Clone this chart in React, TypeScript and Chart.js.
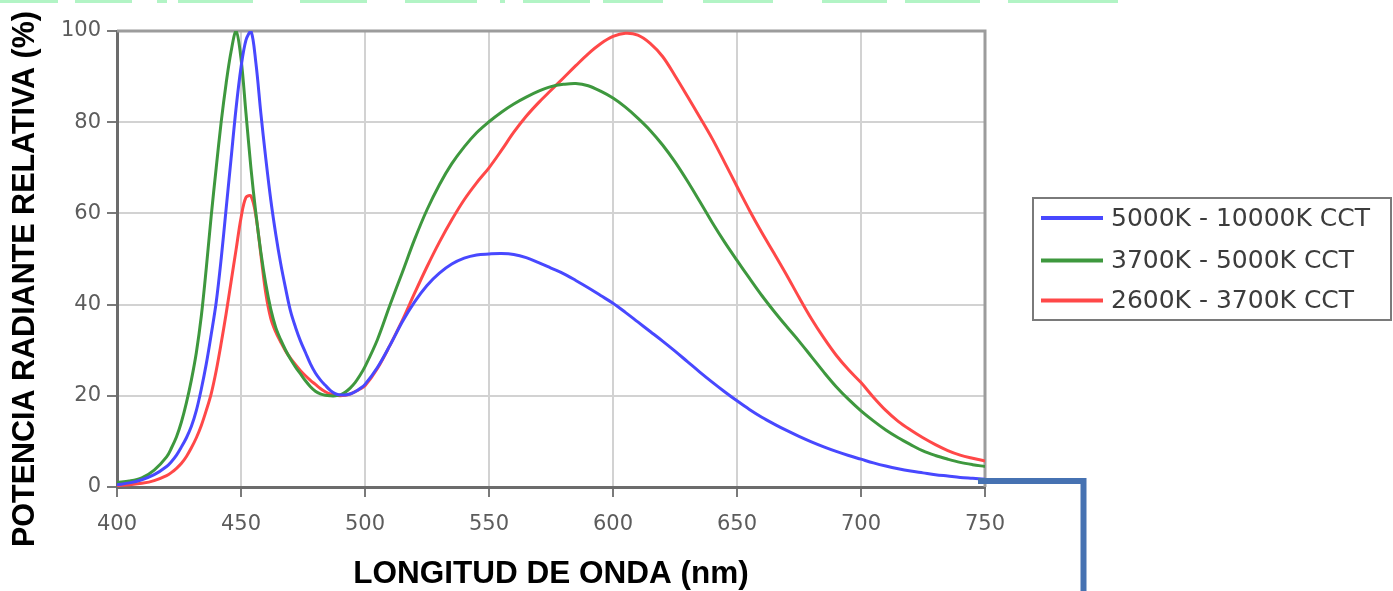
import { useEffect, useRef } from "react";
import { Chart, registerables } from "chart.js";

Chart.register(...registerables);

// Wavelength samples (nm)
const wavelengths = [
  400, 405, 410, 415, 420,
  422, 424, 426, 428, 430, 432, 434, 436, 438, 440,
  442, 444, 446, 448, 450, 452, 454, 456, 458, 460,
  462, 464, 466, 468, 470, 472, 474, 476, 478, 480,
  482, 484, 486, 488, 490, 492, 494, 496, 498, 500,
  505, 510, 515, 520, 525, 530, 535, 540, 545, 550,
  555, 560, 565, 570, 575, 580, 585, 590, 595, 600,
  605, 610, 615, 620, 625, 630, 635, 640, 645, 650,
  655, 660, 665, 670, 675, 680, 685, 690, 695, 700,
  705, 710, 715, 720, 725, 730, 735, 740, 745, 750,
];

// 5000K - 10000K CCT
const cct5000to10000 = [
  0.5, 0.9, 1.6, 2.7, 4.5,
  5.6, 7, 8.8, 10.8, 13.3, 16.8, 21.5, 27, 33.5, 40.5,
  50, 61, 72, 83, 92, 98, 100, 93, 82, 72,
  63, 55.5, 49, 43.5, 38.5, 35, 32, 29.5, 27, 25,
  23.5, 22.3, 21.2, 20.5, 20.2, 20.2, 20.4, 20.9, 21.6, 22.5,
  26.2, 31, 36.2, 40.6, 44.2, 46.9, 48.9, 50.2, 50.9, 51.1,
  51.2, 51, 50.3, 49.2, 48, 46.8, 45.3, 43.7, 42, 40.3,
  38.3, 36.2, 34.1, 32, 29.8, 27.5, 25.2, 23, 20.9, 18.9,
  17, 15.3, 13.8, 12.4, 11.1, 9.9, 8.8, 7.8, 6.9, 6.1,
  5.3, 4.6, 4, 3.5, 3.1, 2.7, 2.4, 2.1, 1.9, 1.7,
];

// 3700K - 5000K CCT
const cct3700to5000 = [
  1, 1.3, 2, 3.7, 6.6,
  8.6, 11, 14.3, 18.5, 23.5, 29.5, 37.5, 48, 59.5, 70,
  80, 88.5, 95.5, 100, 94, 82, 70, 60, 51.5, 44.5,
  39, 35, 32.3, 30, 28, 26.3, 24.8, 23.3, 22, 21,
  20.4, 20.1, 20, 20, 20.2, 20.8, 21.7, 22.9, 24.5, 26.4,
  32.3, 39.8, 47, 54.3, 60.8, 66.3, 70.9, 74.6, 77.7, 80.1,
  82.2, 84, 85.5, 86.8, 87.8, 88.3, 88.5, 88, 86.8, 85.3,
  83.3, 80.9, 78.2, 75, 71.3, 67.1, 62.6, 58, 53.7, 49.7,
  45.8, 42, 38.5, 35.2, 32, 28.6, 25.2, 22, 19.2, 16.7,
  14.5, 12.5, 10.8, 9.3, 7.9, 6.9, 6.1, 5.4, 4.9, 4.5,
];

// 2600K - 3700K CCT
const cct2600to3700 = [
  0.3, 0.5, 0.8, 1.4, 2.5,
  3.2, 4.1, 5.2, 6.7, 8.6, 10.8, 13.5, 16.8, 20.5, 25.5,
  31.5, 38, 45, 52, 59, 63.5, 63.8, 59.5, 51, 42.5,
  37, 34, 31.8, 29.8, 28.2, 26.8, 25.5, 24.4, 23.4, 22.5,
  21.6, 20.9, 20.4, 20.1, 20, 20.1, 20.4, 20.9, 21.5, 22.2,
  26, 31, 36.5, 42.5, 48.3, 53.7, 58.6, 63, 66.7, 70,
  73.8, 77.8, 81.3, 84.3, 87, 89.7, 92.4, 95, 97.2, 98.8,
  99.5, 99.1, 97.3, 94.4, 90.2, 85.7, 81.1, 76.4, 71.2, 65.9,
  60.7, 55.8, 51.2, 46.5, 41.6, 36.9, 32.7, 28.9, 25.7, 22.9,
  19.7, 16.8, 14.4, 12.5, 10.8, 9.3, 8, 7, 6.3, 5.7,
];

const seriesLabels = ["5000K - 10000K CCT", "3700K - 5000K CCT", "2600K - 3700K CCT"];
const seriesColors = ["rgb(72,72,255)", "rgb(62,152,62)", "rgb(255,72,72)"];
const xTickValues = [400, 450, 500, 550, 600, 650, 700, 750];
const yTickValues = [0, 20, 40, 60, 80, 100];
const xTitle = "LONGITUD DE ONDA (nm)";
const yTitle = "POTENCIA RADIANTE RELATIVA (%)";

// decorative remnants at the very top of the picture
const topStripSegments = [
  [0, 58], [75, 132], [157, 167], [178, 253], [300, 367], [405, 477], [500, 505],
  [523, 590], [603, 663], [703, 773], [822, 887], [905, 980], [1008, 1118],
];

const decorPlugin = {
  id: "decor",
  beforeDatasetsDraw(chart: any) {
    const { ctx, chartArea } = chart;
    ctx.save();
    ctx.strokeStyle = "#9c9c9c";
    ctx.lineWidth = 3;
    ctx.beginPath();
    ctx.moveTo(chartArea.left, chartArea.top);
    ctx.lineTo(chartArea.right, chartArea.top);
    ctx.lineTo(chartArea.right, chartArea.bottom);
    ctx.stroke();
    ctx.restore();
  },
  afterDraw(chart: any) {
    const { ctx, chartArea } = chart;
    ctx.save();
    // top strips
    ctx.fillStyle = "#b2f4c5";
    topStripSegments.forEach(([a, b]) => ctx.fillRect(a, 0, b - a, 3));

    // axis titles
    ctx.fillStyle = "#000";
    ctx.font = 'bold 31.5px "Liberation Sans", Arial, sans-serif';
    ctx.textAlign = "center";
    ctx.textBaseline = "alphabetic";
    ctx.fillText(xTitle, (chartArea.left + chartArea.right) / 2, 583);
    ctx.save();
    ctx.translate(34, 279);
    ctx.rotate(-Math.PI / 2);
    ctx.font = 'bold 30.5px "Liberation Sans", Arial, sans-serif';
    ctx.fillText(yTitle, 0, 0);
    ctx.restore();

    // legend
    ctx.strokeStyle = "#7a7a7a";
    ctx.lineWidth = 2;
    ctx.strokeRect(1033, 198, 358, 122);
    const rows = [218, 260.5, 300.5];
    ctx.font = '25px "DejaVu Sans", sans-serif';
    ctx.textAlign = "left";
    ctx.textBaseline = "middle";
    chart.data.datasets.forEach((ds: any, i: number) => {
      ctx.strokeStyle = ds.borderColor;
      ctx.lineWidth = 4;
      ctx.beginPath();
      ctx.moveTo(1041, rows[i]);
      ctx.lineTo(1103, rows[i]);
      ctx.stroke();
      ctx.fillStyle = "#3c3c3c";
      ctx.fillText(ds.label, 1111, rows[i] + 1);
    });

    // blue connector
    ctx.strokeStyle = "#4672b2";
    ctx.lineWidth = 6;
    ctx.lineJoin = "miter";
    ctx.beginPath();
    ctx.moveTo(978, 481);
    ctx.lineTo(1083.5, 481);
    ctx.lineTo(1083.5, 600);
    ctx.stroke();
    ctx.restore();
  },
};

export default function App() {
  const ref = useRef<HTMLCanvasElement | null>(null);

  useEffect(() => {
    if (!ref.current) return;
    const series = [cct5000to10000, cct3700to5000, cct2600to3700];
    const chart = new Chart(ref.current, {
      type: "line",
      data: {
        datasets: series.map((vals, i) => ({
          label: seriesLabels[i],
          data: wavelengths.map((x, j) => ({ x, y: vals[j] })),
          borderColor: seriesColors[i],
          backgroundColor: seriesColors[i],
          borderWidth: 3,
          pointRadius: 0,
          tension: 0.35,
          fill: false,
        })),
      },
      options: {
        animation: false,
        responsive: false,
        devicePixelRatio: 1,
        layout: { padding: { left: 0, top: 31, right: 408, bottom: 0 } },
        plugins: { legend: { display: false }, tooltip: { enabled: false } },
        scales: {
          x: {
            type: "linear",
            min: 400,
            max: 750,
            afterBuildTicks: (s: any) => {
              s.ticks = xTickValues.map((v) => ({ value: v }));
            },
            afterFit: (s: any) => {
              s.height = 104;
            },
            ticks: {
              autoSkip: false,
              maxRotation: 0,
              padding: 15,
              color: "#5c5c5c",
              font: { family: '"DejaVu Sans", sans-serif', size: 21 },
            },
            grid: { color: "#d2d2d2", lineWidth: 2, tickLength: 10, tickColor: "#7a7a7a", tickWidth: 2 },
            border: { color: "#6c6c6c", width: 3 },
          },
          y: {
            min: 0,
            max: 100,
            afterBuildTicks: (s: any) => {
              s.ticks = yTickValues.map((v) => ({ value: v }));
            },
            afterFit: (s: any) => {
              s.width = 117;
            },
            ticks: {
              padding: 6,
              color: "#5c5c5c",
              font: { family: '"DejaVu Sans", sans-serif', size: 21 },
            },
            grid: { color: "#d2d2d2", lineWidth: 2, tickLength: 10, tickColor: "#7a7a7a", tickWidth: 2 },
            border: { color: "#6c6c6c", width: 3 },
          },
        },
      },
      plugins: [decorPlugin],
    });
    return () => chart.destroy();
  }, []);

  return (
    <div style={{ position: "absolute", left: 0, top: 0, width: 1393, height: 591 }}>
      <canvas ref={ref} width={1393} height={591} />
    </div>
  );
}
